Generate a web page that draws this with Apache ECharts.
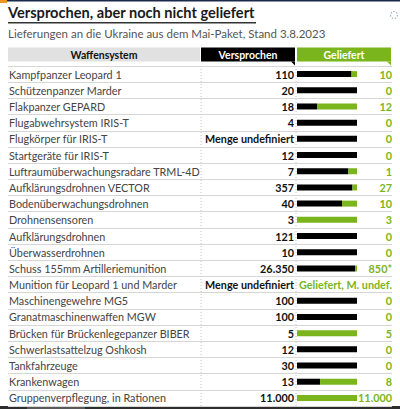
<!DOCTYPE html>
<html><head><meta charset="utf-8">
<script src="https://cdn.jsdelivr.net/npm/echarts@6/dist/echarts.min.js"></script>
<style>html,body{margin:0;padding:0;background:#fff}#c{width:400px;height:409px}</style>
</head><body><div id="c"></div>
<script>
const categories = [
  'Kampfpanzer Leopard 1','Schützenpanzer Marder','Flakpanzer GEPARD','Flugabwehrsystem IRIS-T',
  'Flugkörper für IRIS-T','Startgeräte für IRIS-T','Luftraumüberwachungsradare TRML-4D',
  'Aufklärungsdrohnen VECTOR','Bodenüberwachungsdrohnen','Drohnensensoren','Aufklärungsdrohnen',
  'Überwasserdrohnen','Schuss 155mm Artilleriemunition','Munition für Leopard 1 und Marder',
  'Maschinengewehre MG5','Granatmaschinenwaffen MGW','Brücken für Brückenlegepanzer BIBER',
  'Schwerlastsattelzug Oshkosh','Tankfahrzeuge','Krankenwagen','Gruppenverpflegung, in Rationen'
];
// null = "Menge undefiniert"
const promised  = [110, 20, 18, 4, null, 12, 7, 357, 40, 3, 121, 10, 26350, null, 100, 100, 5, 12, 30, 13, 11000];
// null = "Geliefert, M. undef."
const delivered = [10, 0, 12, 0, 0, 0, 1, 27, 10, 3, 0, 0, 850, null, 0, 0, 5, 0, 0, 8, 11000];
const deliveredNote = ['', '', '', '', '', '', '', '', '', '', '', '', '*', '', '', '', '', '', '', '', ''];

const GREEN = '#7ab51d';
const fmt = v => String(v).replace(/\B(?=(\d{3})+(?!\d))/g, '.');
const promisedText = promised.map(v => v === null ? 'Menge undefiniert' : fmt(v));
const deliveredText = delivered.map((v, i) => v === null ? 'Geliefert, M. undef.' : fmt(v) + deliveredNote[i]);

const open = promised.map((p, i) => {
  const d = delivered[i];
  if (d === null) return null;
  if (p === null) return d === 0 ? 1 : null;
  return (p - d) / p;
});
const done = promised.map((p, i) => {
  const d = delivered[i];
  if (d === null || p === null) return null;
  return d / p;
});

const FONT = 'Lato';
const chart = echarts.init(document.getElementById('c'), null, {renderer: 'svg'});
const TOP = 66, BOTTOM = 3;
chart.setOption({
  animation: false,
  textStyle: {fontFamily: FONT},
  grid: [
    {left: 8, right: 8, top: TOP, bottom: BOTTOM},
    {left: 297, right: 43, top: TOP, bottom: BOTTOM}
  ],
  xAxis: [
    {gridIndex: 0, type: 'value', min: 0, max: 1, show: false},
    {gridIndex: 1, type: 'value', min: 0, max: 1, show: false}
  ],
  yAxis: [
    {gridIndex: 0, type: 'category', data: categories, inverse: true,
     axisLine: {show: false}, axisTick: {show: false},
     splitLine: {show: true, lineStyle: {color: '#d6d6d6', width: 1}},
     axisLabel: {inside: true, margin: 1, color: '#444', fontSize: 10.8, fontFamily: FONT}},
    {gridIndex: 1, type: 'category', data: categories, inverse: true, position: 'left',
     axisLine: {show: false}, axisTick: {show: false},
     axisLabel: {margin: 3, color: '#111', fontSize: 10.8, fontWeight: 'bold', fontFamily: FONT,
       formatter: (v, i) => promisedText[i]}},
    {gridIndex: 1, type: 'category', data: categories, inverse: true, position: 'right',
     axisLine: {show: false}, axisTick: {show: false},
     axisLabel: {margin: 35, align: 'right', color: GREEN, fontSize: 10.8, fontWeight: 'bold', fontFamily: FONT,
       formatter: (v, i) => deliveredText[i]}}
  ],
  series: [
    {type: 'bar', xAxisIndex: 0, yAxisIndex: 0, data: [], silent: true},
    {type: 'bar', xAxisIndex: 1, yAxisIndex: 1, stack: 's', data: open, barWidth: 6,
     itemStyle: {color: '#000'}, silent: true},
    {type: 'bar', xAxisIndex: 1, yAxisIndex: 1, stack: 's', data: done, barWidth: 6,
     itemStyle: {color: GREEN}, silent: true}
  ],
  graphic: [
    {type: 'rect', shape: {x: 0, y: 0, width: 400, height: 1.5}, style: {fill: '#1b2a4a'}},
    {type: 'rect', shape: {x: 0, y: 0, width: 7, height: 3}, style: {fill: '#f0961e'}},
    {type: 'text', left: 8, top: 5, style: {text: 'Versprochen, aber noch nicht geliefert', font: 'bold 14.6px Lato', fill: '#1a1a1a'}},
    {type: 'rect', shape: {x: 8, y: 22, width: 248, height: 1.5}, style: {fill: '#333'}},
    {type: 'text', left: 8, top: 27, style: {text: 'Lieferungen an die Ukraine aus dem Mai-Paket, Stand 3.8.2023', font: '11.5px Lato', fill: '#555'}},
    {type: 'circle', shape: {cx: 394, cy: 15, r: 3.5}, style: {fill: 'none', stroke: '#9fb3c8', lineWidth: 1.2, lineDash: [1.5, 1.5]}},
    {type: 'rect', shape: {x: 8, y: 47.5, width: 192, height: 14}, style: {fill: '#e1e1e1'}},
    {type: 'text', x: 104, y: 54.5, style: {text: 'Waffensystem', font: 'bold 10.5px Lato', fill: '#111', align: 'center', verticalAlign: 'middle'}},
    {type: 'rect', shape: {x: 201, y: 47.5, width: 94, height: 14}, style: {fill: '#000'}},
    {type: 'polygon', shape: {points: [[291, 61.5], [295, 61.5], [295, 65.5]]}, style: {fill: '#000'}},
    {type: 'text', x: 248, y: 54.5, style: {text: 'Versprochen', font: 'bold 10.5px Lato', fill: '#fff', align: 'center', verticalAlign: 'middle'}},
    {type: 'rect', shape: {x: 297, y: 47.5, width: 94, height: 14}, style: {fill: GREEN}},
    {type: 'polygon', shape: {points: [[387, 61.5], [391, 61.5], [391, 65.5]]}, style: {fill: GREEN}},
    {type: 'text', x: 344, y: 54.5, style: {text: 'Geliefert', font: 'bold 10.5px Lato', fill: '#fff', align: 'center', verticalAlign: 'middle'}},
    {type: 'line', shape: {x1: 201, y1: 66, x2: 201, y2: 406}, style: {stroke: '#c4c4c4', lineWidth: 1, lineDash: [1, 2]}},
    {type: 'line', shape: {x1: 296, y1: 66, x2: 296, y2: 406}, style: {stroke: '#c4c4c4', lineWidth: 1, lineDash: [1, 2]}},
    {type: 'rect', shape: {x: 0, y: 406, width: 400, height: 3}, style: {fill: '#2e2e2e'}},
    {type: 'rect', shape: {x: 27, y: 406, width: 58, height: 3}, style: {fill: '#5a5a5a'}}
  ]
});
</script></body></html>
